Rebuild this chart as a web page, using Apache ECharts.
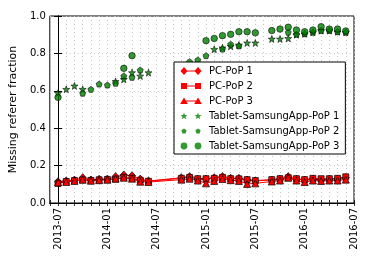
<!DOCTYPE html>
<html><head><meta charset="utf-8">
<script src="https://cdn.jsdelivr.net/npm/echarts@6/dist/echarts.min.js"></script>
<style>html,body{margin:0;padding:0;background:#fff}#c{width:374px;height:262px}</style>
</head><body><div id="c"></div>
<script>
// ---- data ----
const pcMonths = ['2013-07','2013-08','2013-09','2013-10','2013-11','2013-12','2014-01','2014-02','2014-03','2014-04','2014-05','2014-06',
  '2014-10','2014-11','2014-12','2015-01','2015-02','2015-03','2015-04','2015-05','2015-06','2015-07',
  '2015-09','2015-10','2015-11','2015-12','2016-01','2016-02','2016-03','2016-04','2016-05','2016-06'];
const pcPop1 = [0.114,0.118,0.123,0.135,0.123,0.127,0.128,0.141,0.150,0.146,0.128,0.118,
  0.135,0.141,0.128,0.128,0.135,0.141,0.132,0.132,0.123,0.118,
  0.123,0.128,0.141,0.128,0.123,0.128,0.123,0.128,0.128,0.135];
const pcPop2 = [0.105,0.115,0.120,0.123,0.121,0.124,0.126,0.128,0.137,0.132,0.122,0.116,
  0.132,0.137,0.130,0.130,0.132,0.137,0.130,0.129,0.125,0.120,
  0.125,0.130,0.135,0.130,0.125,0.132,0.130,0.130,0.132,0.140];
const pcPop3 = [0.110,0.112,0.118,0.125,0.119,0.122,0.124,0.130,0.135,0.130,0.114,0.112,
  0.125,0.130,0.120,0.105,0.118,0.128,0.122,0.118,0.102,0.105,
  0.115,0.120,0.135,0.120,0.112,0.120,0.118,0.120,0.120,0.125];

const tab1Months = ['2013-07','2013-08','2013-09','2013-10','2014-02','2014-03','2014-04','2014-05','2014-06',
  '2015-02','2015-03','2015-04','2015-05','2015-06','2015-07','2015-09','2015-10','2015-11','2015-12',
  '2016-01','2016-02','2016-03','2016-04','2016-05','2016-06'];
const tab1 = [0.587,0.608,0.626,0.608,0.650,0.661,0.697,0.679,0.697,
  0.822,0.830,0.838,0.845,0.856,0.856,0.877,0.877,0.880,0.900,
  0.905,0.913,0.922,0.922,0.916,0.913];
const tab2Months = ['2013-10','2013-11','2013-12','2014-01','2014-02','2014-03','2014-04','2014-05',
  '2014-11','2014-12','2015-01','2015-03','2015-04','2015-05','2015-11','2015-12',
  '2016-01','2016-02','2016-03','2016-04','2016-05','2016-06'];
const tab2 = [0.587,0.608,0.636,0.631,0.640,0.679,0.672,0.711,
  0.756,0.765,0.788,0.823,0.849,0.840,0.913,0.902,
  0.905,0.913,0.922,0.922,0.916,0.913];
const tab3Months = ['2013-07','2014-03','2014-04','2015-01','2015-02','2015-03','2015-04','2015-05','2015-06','2015-07',
  '2015-09','2015-10','2015-11','2015-12','2016-01','2016-02','2016-03','2016-04','2016-05','2016-06'];
const tab3 = [0.565,0.720,0.788,0.868,0.880,0.895,0.902,0.916,0.916,0.910,
  0.922,0.930,0.940,0.925,0.916,0.925,0.943,0.930,0.930,0.920];

const seriesNames = ['PC-PoP 1','PC-PoP 2','PC-PoP 3','Tablet-SamsungApp-PoP 1','Tablet-SamsungApp-PoP 2','Tablet-SamsungApp-PoP 3'];
const xTickLabels = ['2013-07','2014-01','2014-07','2015-01','2015-07','2016-01','2016-07'];
const yTicks = [0,0.2,0.4,0.6,0.8,1.0];

// ---- helpers ----
// month index relative to 2013-07 (month-resolution time scale)
const baseY = 2013, baseM = 7;
const mIdx = s => { const [y, m] = s.split('-').map(Number); return (y - baseY) * 12 + (m - baseM); };
const mLabel = i => { const t = baseY * 12 + (baseM - 1) + i; return Math.floor(t / 12) + '-' + String(t % 12 + 1).padStart(2, '0'); };
const toPts = (months, vals) => months.map((m, i) => [mIdx(m), vals[i]]);
const f = n => n.toFixed(2);
function starPath(cx, cy, R, r) {
  let s = '';
  for (let k = 0; k < 10; k++) {
    const a = (-90 + k * 36) * Math.PI / 180, rad = k % 2 ? r : R;
    s += (k ? 'L' : 'M') + f(cx + rad * Math.cos(a)) + ',' + f(cy + rad * Math.sin(a)) + ' ';
  }
  return s + 'Z ';
}
function polyPath(cx, cy, R, n) {
  let s = '';
  for (let k = 0; k < n; k++) {
    const a = (-90 + k * 360 / n) * Math.PI / 180;
    s += (k ? 'L' : 'M') + f(cx + R * Math.cos(a)) + ',' + f(cy + R * Math.sin(a)) + ' ';
  }
  return s + 'Z ';
}
function circlePath(cx, cy, r) {
  return 'M' + f(cx - r) + ',' + cy + ' A' + r + ',' + r + ' 0 1,1 ' + f(cx + r) + ',' + cy + ' A' + r + ',' + r + ' 0 1,1 ' + f(cx - r) + ',' + cy + ' Z ';
}
const diamond = (cx) => `M${cx-3.5},4 L${cx},0 L${cx+3.5},4 L${cx},8 Z `;
const square = (cx) => `M${cx-3},1 L${cx+3},1 L${cx+3},7 L${cx-3},7 Z `;
const tri = (cx) => `M${cx},0.5 L${cx+3.8},7 L${cx-3.8},7 Z `;
const lineBar = 'M4,3.5 L18,3.5 L18,4.5 L4,4.5 Z ';
const bbox = 'M0,0 L0,0 M22,8 L22,8 ';
const icons = [
  'path://' + bbox + diamond(4) + lineBar + diamond(18),
  'path://' + bbox + square(4) + lineBar + square(18),
  'path://' + bbox + tri(4) + lineBar + tri(18),
  'path://' + bbox + starPath(4, 4.3, 3.8, 1.5) + starPath(18, 4.3, 3.8, 1.5),
  'path://' + bbox + polyPath(4, 4.2, 2.8, 5) + polyPath(18, 4.2, 2.8, 5),
  'path://' + bbox + circlePath(4, 4, 3.4) + circlePath(18, 4, 3.4)
];
const starSym = 'path://' + starPath(0, 0, 4, 1.6);
const pentSym = 'path://' + polyPath(0, 0, 4, 5);

const font = 'DejaVu Sans';
const border = { borderColor: '#000', borderWidth: 0.7 };
const pcSeries = (name, vals, sym, size) => ({
  name, type: 'line', data: toPts(pcMonths, vals), symbol: sym, symbolSize: size,
  showAllSymbol: true, itemStyle: Object.assign({ color: '#ff0000' }, border),
  lineStyle: { color: '#ff0000', width: 1 }, emphasis: { disabled: true }, animation: false
});
const tabSeries = (name, months, vals, sym, size) => ({
  name, type: 'scatter', data: toPts(months, vals), symbol: sym, symbolSize: size,
  itemStyle: Object.assign({ color: '#008000' }, border), emphasis: { disabled: true }, animation: false
});

const xMin = mIdx('2013-06'), xMax = mIdx(xTickLabels[xTickLabels.length - 1]);
const xCommon = {
  type: 'value', min: xMin, max: xMax, interval: 1,
  axisLine: { show: true, lineStyle: { color: '#000', width: 1 } },
  axisTick: { show: true, inside: true, length: 3, lineStyle: { color: '#000', width: 0.8 } }
};
const gridLine = { show: true, lineStyle: { color: '#c4c4c4', type: [1, 3], width: 1 } };

const chart = echarts.init(document.getElementById('c'), null, { renderer: 'canvas' });
chart.setOption({
  animation: false,
  backgroundColor: '#fff',
  grid: { left: 45, right: 20, top: 16, bottom: 59, show: true, borderColor: '#000', borderWidth: 1, containLabel: false },
  xAxis: [
    Object.assign({}, xCommon, {
      position: 'bottom',
      axisLabel: {
        rotate: 90, margin: 5, fontSize: 10, fontFamily: font, color: '#000', showMinLabel: true, showMaxLabel: true,
        formatter: v => { const l = mLabel(Math.round(v)); return xTickLabels.includes(l) ? l : ''; }
      },
      splitLine: gridLine
    }),
    Object.assign({}, xCommon, { position: 'top', axisLabel: { show: false }, splitLine: { show: false } })
  ],
  yAxis: [
    {
      type: 'value', min: yTicks[0], max: yTicks[yTicks.length - 1], interval: 0.2,
      name: 'Missing referer fraction', nameLocation: 'middle', nameGap: 25,
      nameTextStyle: { fontSize: 11, fontFamily: font, color: '#000' },
      axisLine: { show: true, lineStyle: { color: '#000' } },
      axisTick: { show: true, inside: true, length: 4, lineStyle: { color: '#000' } },
      axisLabel: { fontSize: 10, fontFamily: font, color: '#000', margin: 4, formatter: v => v.toFixed(1) },
      splitLine: gridLine
    },
    {
      type: 'value', min: 0, max: 1, interval: 0.2, position: 'right',
      axisLine: { show: true, lineStyle: { color: '#000' } },
      axisTick: { show: true, inside: true, length: 4, lineStyle: { color: '#000' } },
      axisLabel: { show: false }, splitLine: { show: false }
    }
  ],
  legend: {
    orient: 'vertical', left: 174, top: 62, padding: [4, 6, 3, 6],
    borderColor: '#000', borderWidth: 1, backgroundColor: '#fff', borderRadius: 0,
    itemWidth: 22, itemHeight: 8, itemGap: 5,
    selectedMode: false,
    textStyle: { fontSize: 10, fontFamily: font, color: '#000', lineHeight: 10, padding: [0, 0, 0, 2] },
    itemStyle: { borderWidth: 0 },
    data: seriesNames.map((n, i) => ({ name: n, icon: icons[i] }))
  },
  series: [
    pcSeries(seriesNames[0], pcPop1, 'diamond', [7, 8]),
    pcSeries(seriesNames[1], pcPop2, 'rect', 6),
    pcSeries(seriesNames[2], pcPop3, 'triangle', 7),
    tabSeries(seriesNames[3], tab1Months, tab1, starSym, 7),
    tabSeries(seriesNames[4], tab2Months, tab2, pentSym, 6),
    tabSeries(seriesNames[5], tab3Months, tab3, 'circle', 6.5)
  ]
});
</script>
</body></html>
